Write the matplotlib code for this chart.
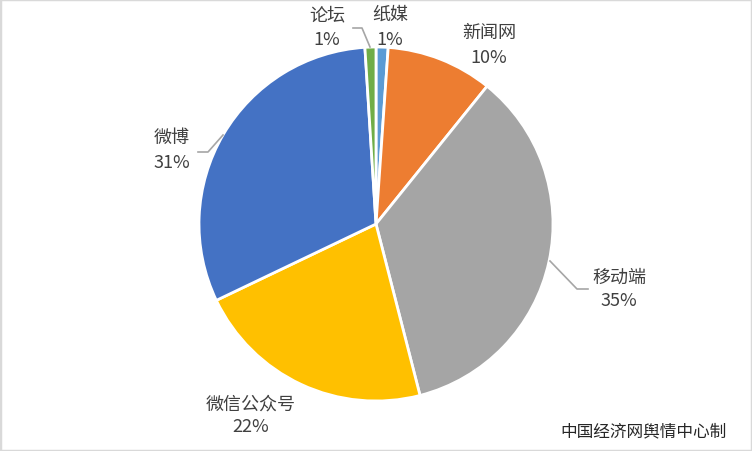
import matplotlib.pyplot as plt
from matplotlib.patches import Rectangle

plt.rcParams['font.family'] = ['Noto Sans CJK SC', 'DejaVu Sans']

# data, clockwise from 12 o'clock
names = ['纸媒', '新闻网', '移动端', '微信公众号', '微博', '论坛']
shares = [1.1, 9.7, 35.2, 21.9, 31.1, 1.0]
colors = ['#5B9BD5', '#ED7D31', '#A5A5A5', '#FFC000', '#4472C4', '#70AD47']

W, H = 752, 452
fig = plt.figure(figsize=(W / 100, H / 100), dpi=100)
ax = fig.add_axes([0, 0, 1, 1])

ax.pie(shares, colors=colors, startangle=90, counterclock=False,
       center=(376, H - 225), radius=177, frame=True,
       wedgeprops=dict(edgecolor='white', linewidth=2))
ax.set_xlim(0, W)
ax.set_ylim(0, H)
ax.set_aspect('equal')
ax.axis('off')

# label positions in pixel coords (x, y of name line, y of pct line)
label_pos = {
    '纸媒': (390, 15, 40),
    '新闻网': (489, 33, 58),
    '移动端': (619, 278, 301),
    '微信公众号': (251, 405, 427),
    '微博': (172, 138, 163),
    '论坛': (327, 15, 40),
}
txt_color = '#404040'
for n, s in zip(names, shares):
    x, y1, y2 = label_pos[n]
    ax.text(x, H - y1, n, ha='center', va='center', fontsize=13, color=txt_color)
    ax.text(x, H - y2, '%d%%' % round(s), ha='center', va='center', fontsize=13,
            color=txt_color)

# leader lines
lines = [
    [(353, 29), (362, 29), (370, 48)],
    [(198, 153), (208, 153), (223, 136)],
    [(550, 262), (577, 290), (588, 290)],
]
for pts in lines:
    ax.plot([p[0] for p in pts], [H - p[1] for p in pts], color='#A6A6A6', lw=1.2)

ax.text(727, H - 432, '中国经济网舆情中心制', ha='right', va='center',
        fontsize=12, color='#262626')

fig.patches.append(Rectangle((0, 0), 1, 1, transform=fig.transFigure,
                             fill=False, edgecolor='#D9D9D9', linewidth=2.5))

fig.savefig('out.png', dpi=100)
